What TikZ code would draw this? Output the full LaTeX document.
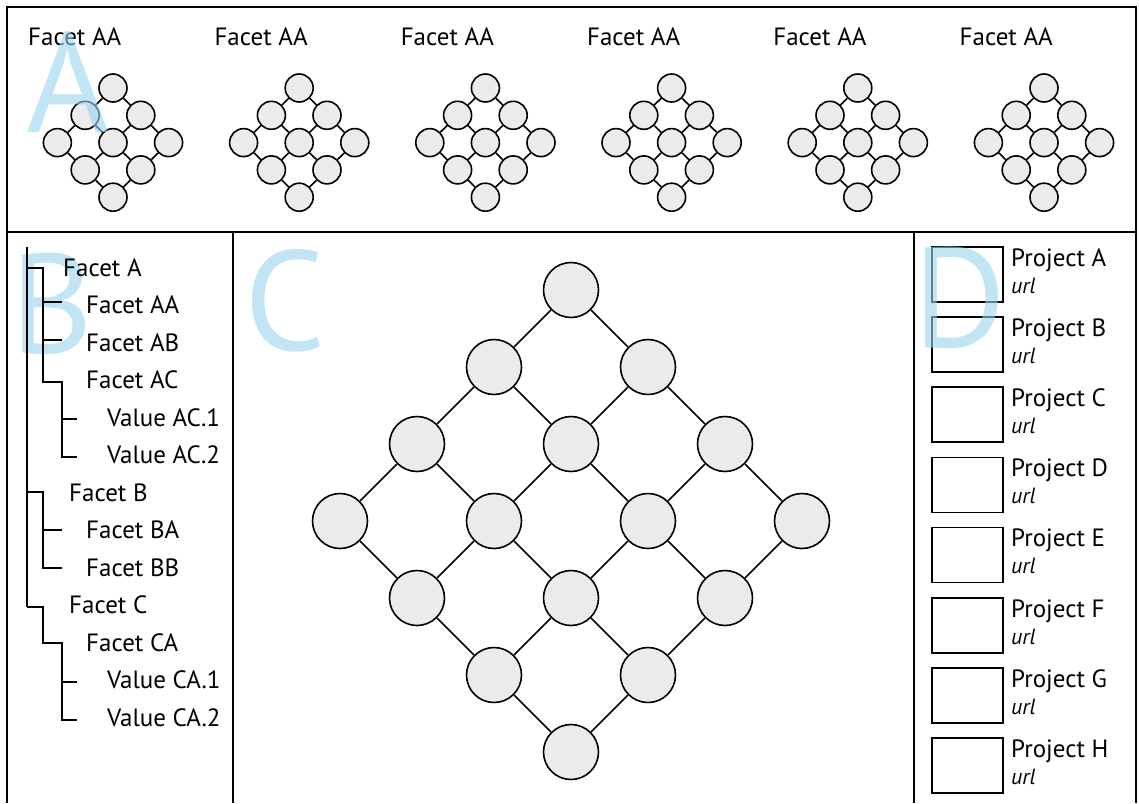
\documentclass[tikz,border=0pt]{standalone}
\usepackage{fontspec}
\setmainfont{PT Sans}
\definecolor{lblue}{RGB}{153,212,238}
\definecolor{cfill}{RGB}{235,235,235}
\tikzset{
  frame/.style={line width=2pt},
  sball/.style={circle,draw,line width=1.6pt,fill=cfill,minimum size=28pt,inner sep=0pt},
  bball/.style={circle,draw,line width=1.6pt,fill=cfill,minimum size=55pt,inner sep=0pt},
  edge/.style={line width=1.6pt},
  lbl/.style={anchor=base west,inner sep=0pt,font=\fontsize{25}{28}\selectfont},
  url/.style={anchor=base west,inner sep=0pt,font=\fontsize{22}{24}\selectfont\itshape},
  big/.style={anchor=base west,inner sep=0pt,font=\fontsize{142}{142}\selectfont,text=lblue,text opacity=0.6},
  tree/.style={line width=1.6pt},
  pbox/.style={draw,line width=1.6pt,minimum width=71pt,minimum height=55pt,inner sep=0pt,anchor=north west},
}
\begin{document}
\begin{tikzpicture}[x=1pt,y=-1pt]
\useasboundingbox (0,0) rectangle (1139,803);
% frame
\draw[frame] (7,803) -- (7,7) -- (1136,7) -- (1136,803);
\draw[frame] (7,232) -- (1136,232);
\draw[frame] (233,232) -- (233,803);
\draw[frame] (914,232) -- (914,803);
% small lattices
\foreach \k in {0,...,5}{
  \pgfmathsetmacro{\cx}{113+186.2*\k}
  \foreach \i in {0,1,2}{
    \foreach \j in {0,1,2}{
      \node[sball] (s\k-\i-\j) at ({\cx+(\j-\i)*27.8},{88+(\i+\j)*27.3}) {};
    }
  }
  \foreach \i in {0,1,2}{
    \draw[edge] (s\k-\i-0) -- (s\k-\i-1) -- (s\k-\i-2);
    \draw[edge] (s\k-0-\i) -- (s\k-1-\i) -- (s\k-2-\i);
  }
  \node[lbl] (t\k) at ({28+186.3*\k},45) {Facet AA};
}
% big lattice
\foreach \i in {0,...,3}{
  \foreach \j in {0,...,3}{
    \node[bball] (b\i-\j) at ({571+(\j-\i)*77},{290+(\i+\j)*77}) {};
  }
}
\foreach \i in {0,...,3}{
  \draw[edge] (b\i-0) -- (b\i-1) -- (b\i-2) -- (b\i-3);
  \draw[edge] (b0-\i) -- (b1-\i) -- (b2-\i) -- (b3-\i);
}
% project boxes
\foreach \n [count=\c from 0] in {A,B,C,D,E,F,G,H}{
  \node[pbox] (box\n) at (931,{246+70.2*\c}) {};
}
% big letters
\node[big] (LA) at (26,132) {A};
\node[big] (LB) at (10,353) {B};
\node[big] (LC) at (244,350) {C};
\node[big] (LD) at (913,347) {D};
% project labels
\foreach \n [count=\c from 0] in {A,B,C,D,E,F,G,H}{
  \node[lbl] (p\n) at (1011,{266+70.2*\c}) {Project \n};
  \node[url] (u\n) at (1011,{293+70.2*\c}) {url};
}
% tree
\draw[tree] (27,247) -- (27,607);
\draw[tree] (27,268) -- (43,268) -- (43,382) -- (62,382) -- (62,457) -- (77,457);
\draw[tree] (43,302) -- (62,302);
\draw[tree] (43,340) -- (62,340);
\draw[tree] (62,419) -- (77,419);
\draw[tree] (27,492) -- (43,492) -- (43,568) -- (62,568);
\draw[tree] (43,530) -- (62,530);
\draw[tree] (27,607) -- (43,607) -- (43,643) -- (62,643) -- (62,720) -- (77,720);
\draw[tree] (62,682) -- (77,682);
\node[lbl] (fA) at (63,276) {Facet A};
\node[lbl] (fAA) at (86,313.5) {Facet AA};
\node[lbl] (fAB) at (86,351) {Facet AB};
\node[lbl] (fAC) at (86,388.5) {Facet AC};
\node[lbl] (vAC1) at (107,426) {Value AC.1};
\node[lbl] (vAC2) at (107,463.5) {Value AC.2};
\node[lbl] (fB) at (69,501) {Facet B};
\node[lbl] (fBA) at (86,538.5) {Facet BA};
\node[lbl] (fBB) at (86,576) {Facet BB};
\node[lbl] (fC) at (69,613.5) {Facet C};
\node[lbl] (fCA) at (86,651) {Facet CA};
\node[lbl] (vCA1) at (107,688.5) {Value CA.1};
\node[lbl] (vCA2) at (107,726) {Value CA.2};
\end{tikzpicture}
\end{document}
